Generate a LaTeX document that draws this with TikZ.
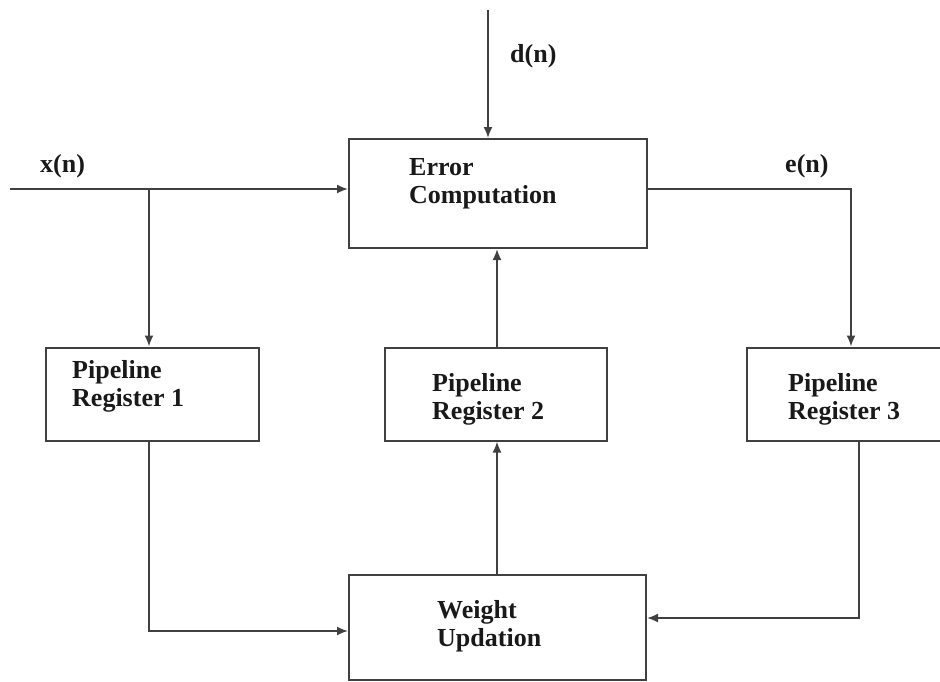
\documentclass[tikz,border=0pt]{standalone}
\usepackage{fontspec}
\setmainfont{Liberation Serif}
\usetikzlibrary{arrows.meta}
\begin{document}
\begin{tikzpicture}[x=1pt,y=-1pt,
  blk/.style={draw=black!75,line width=2pt,rectangle,inner sep=0pt},
  txt/.style={font=\fontsize{26}{28}\selectfont\bfseries,text=black!90,inner sep=0pt,align=left,anchor=base west},
  conn/.style={draw=black!75,line width=1.8pt},
  arr/.style={conn,-{Latex[length=11pt,width=9pt]}}]
\clip (0,0) rectangle (940,681);
\useasboundingbox (0,0) rectangle (940,681);
% boxes
\node[blk,minimum width=298pt,minimum height=109pt] (ec) at (498,193.5) {};
\node[blk,minimum width=213pt,minimum height=93pt] (p1) at (152.5,394) {};
\node[blk,minimum width=222pt,minimum height=93pt] (p2) at (496,394) {};
\node[blk,minimum width=210pt,minimum height=93pt] (p3) at (852,394) {};
\node[blk,minimum width=297pt,minimum height=105pt] (wu) at (497.5,627.5) {};
% texts (base anchor = baseline of the last line)
\node[txt] (tec) at (409,203) {Error\\Computation};
\node[txt] (tp1) at (72,406) {Pipeline\\Register 1};
\node[txt] (tp2) at (432,419) {Pipeline\\Register 2};
\node[txt] (tp3) at (788,419) {Pipeline\\Register 3};
\node[txt] (twu) at (437,646) {Weight\\Updation};
\node[txt] (lx) at (40,172) {x(n)};
\node[txt] (ld) at (510,62) {d(n)};
\node[txt] (le) at (785,172) {e(n)};
% coordinates
\coordinate (xin) at (10,189);
\coordinate (xb) at (149,189);
\coordinate (dtop) at (488,10);
\coordinate (ecorner) at (851,189);
\coordinate (c1) at (149,631);
\coordinate (c3) at (859,618);
% connectors
\draw[arr] (xin) -- (ec.west |- xb);
\draw[arr] (xb) -- (xb |- p1.north);
\draw[arr] (dtop) -- (dtop |- ec.north);
\draw[arr] (ec.east |- ecorner) -- (ecorner) -- (ecorner |- p3.north);
\draw[arr] (c1 |- p1.south) -- (c1) -- (wu.west |- c1);
\draw[arr] (c3 |- p3.south) -- (c3) -- (wu.east |- c3);
\draw[arr] (wu.north -| 497,0) -- (p2.south -| 497,0);
\draw[arr] (p2.north -| 497,0) -- (ec.south -| 497,0);
\end{tikzpicture}
\end{document}
